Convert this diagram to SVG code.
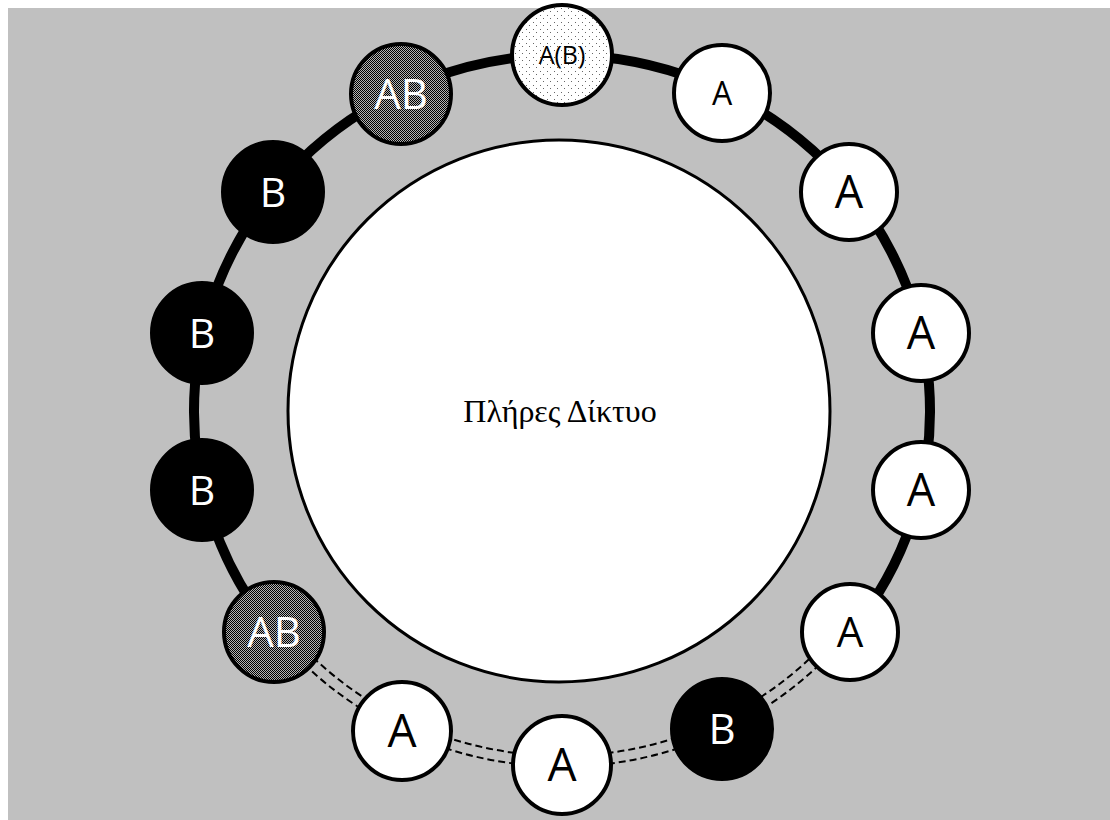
<svg xmlns="http://www.w3.org/2000/svg" width="1110" height="820" viewBox="0 0 1110 820">
<defs>
<pattern id="checker" width="2" height="2" patternUnits="userSpaceOnUse">
<rect width="2" height="2" fill="#b4b4b4" shape-rendering="crispEdges"/>
<rect x="0" y="0" width="1" height="1" fill="#000" shape-rendering="crispEdges"/>
<rect x="1" y="1" width="1" height="1" fill="#000" shape-rendering="crispEdges"/>
</pattern>
<pattern id="dots" width="7" height="7" patternUnits="userSpaceOnUse">
<rect width="7" height="7" fill="#ffffff"/>
<rect x="1" y="1" width="1" height="1" fill="#666" shape-rendering="crispEdges"/>
<rect x="4" y="4" width="1" height="1" fill="#666" shape-rendering="crispEdges"/>
</pattern>
<style>
.node{stroke:#000;stroke-width:4}
.wa{fill:#fff}
.bb{fill:#000}
.ab{fill:url(#checker)}
.ad{fill:url(#dots)}
.t{font-family:"Open Sans","DejaVu Sans",sans-serif;text-anchor:middle}
.tb{fill:#000}
.tw{fill:#fff}
.dash{fill:none;stroke:#000;stroke-width:2;stroke-dasharray:7 4}
</style>
</defs>
<rect x="0" y="0" width="1110" height="820" fill="#fff"/>
<rect x="8" y="8" width="1102" height="812" fill="#c0c0c0"/>
<g id="network">
<circle cx="559" cy="411" r="271" fill="#fff" stroke="#000" stroke-width="3"/>
<text x="560" y="422" font-family="'Liberation Serif','DejaVu Serif',serif" font-size="32" text-anchor="middle" fill="#000">Πλήρες Δίκτυο</text>
</g>
<g id="connectors">
<path d="M 849.7 633 A 368 356 0 1 0 274.3 633" fill="none" stroke="#000" stroke-width="10"/>
<path class="dash" d="M 274.3 633 A 367 355 0 0 0 849.7 633" transform="translate(0,-1)"/>
<path class="dash" d="M 283 625 A 355 343 0 0 0 841 625"/>
</g>
<g id="n1"><circle class="node ad" cx="562" cy="55" r="50"/><text class="t tb" x="562" y="64" font-size="25">A(B)</text></g>
<g id="n2"><circle class="node wa" cx="722" cy="93" r="48"/><text class="t tb" x="722" y="105" font-size="32">A</text></g>
<g id="n3"><circle class="node wa" cx="849" cy="192" r="48"/><text class="t tb" x="849" y="208" font-size="45">A</text></g>
<g id="n4"><circle class="node wa" cx="921" cy="333" r="48"/><text class="t tb" x="921" y="349" font-size="45">A</text></g>
<g id="n5"><circle class="node wa" cx="921" cy="490" r="48"/><text class="t tb" x="921" y="506" font-size="45">A</text></g>
<g id="n6"><circle class="node wa" cx="850" cy="632" r="48"/><text class="t tb" x="850" y="647" font-size="42">A</text></g>
<g id="n7"><circle class="node bb" cx="722" cy="729" r="50"/><text class="t tw" x="722" y="744" font-size="42">B</text></g>
<g id="n8"><circle class="node wa" cx="562" cy="765" r="49"/><text class="t tb" x="562" y="781" font-size="46">A</text></g>
<g id="n9"><circle class="node wa" cx="402" cy="731" r="49"/><text class="t tb" x="402" y="747" font-size="46">A</text></g>
<g id="n10"><circle class="node ab" cx="274" cy="632" r="50"/><text class="t tw" x="274" y="647" font-size="42">AB</text></g>
<g id="n11"><circle class="node bb" cx="202" cy="490" r="50"/><text class="t tw" x="202" y="505" font-size="41">B</text></g>
<g id="n12"><circle class="node bb" cx="202" cy="333" r="50"/><text class="t tw" x="202" y="348" font-size="41">B</text></g>
<g id="n13"><circle class="node bb" cx="273" cy="192" r="50"/><text class="t tw" x="273" y="207" font-size="41">B</text></g>
<g id="n14"><circle class="node ab" cx="401" cy="94" r="50"/><text class="t tw" x="401" y="109" font-size="42">AB</text></g>
</svg>
